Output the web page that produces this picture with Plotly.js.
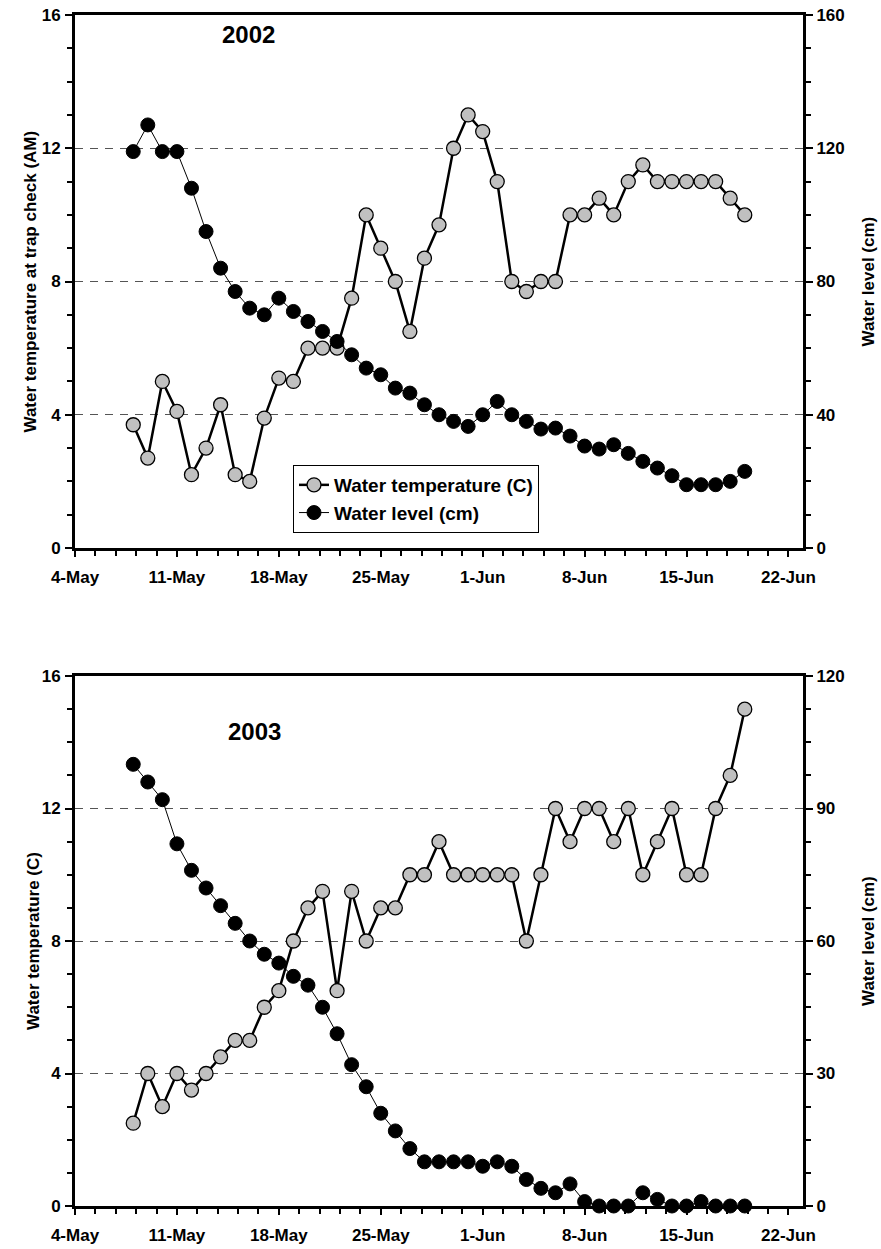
<!DOCTYPE html>
<html>
<head>
<meta charset="utf-8">
<script src="https://cdn.plot.ly/plotly-3.0.1.min.js"></script>
<style>
  html, body { margin: 0; padding: 0; background: #ffffff; }
  #chart { width: 881px; height: 1249px; }
</style>
</head>
<body>
<div id="chart"></div>
<script>
// Daily trap-check dates (8 May - 19 June) for each season
const dates2002 = [
  '2002-05-08','2002-05-09','2002-05-10','2002-05-11','2002-05-12','2002-05-13','2002-05-14',
  '2002-05-15','2002-05-16','2002-05-17','2002-05-18','2002-05-19','2002-05-20','2002-05-21',
  '2002-05-22','2002-05-23','2002-05-24','2002-05-25','2002-05-26','2002-05-27','2002-05-28',
  '2002-05-29','2002-05-30','2002-05-31','2002-06-01','2002-06-02','2002-06-03','2002-06-04',
  '2002-06-05','2002-06-06','2002-06-07','2002-06-08','2002-06-09','2002-06-10','2002-06-11',
  '2002-06-12','2002-06-13','2002-06-14','2002-06-15','2002-06-16','2002-06-17','2002-06-18',
  '2002-06-19'
];
const dates2003 = [
  '2003-05-08','2003-05-09','2003-05-10','2003-05-11','2003-05-12','2003-05-13','2003-05-14',
  '2003-05-15','2003-05-16','2003-05-17','2003-05-18','2003-05-19','2003-05-20','2003-05-21',
  '2003-05-22','2003-05-23','2003-05-24','2003-05-25','2003-05-26','2003-05-27','2003-05-28',
  '2003-05-29','2003-05-30','2003-05-31','2003-06-01','2003-06-02','2003-06-03','2003-06-04',
  '2003-06-05','2003-06-06','2003-06-07','2003-06-08','2003-06-09','2003-06-10','2003-06-11',
  '2003-06-12','2003-06-13','2003-06-14','2003-06-15','2003-06-16','2003-06-17','2003-06-18',
  '2003-06-19'
];

// Water temperature at trap check (C)
const temp2002 = [
  3.7, 2.7, 5.0, 4.1, 2.2, 3.0, 4.3, 2.2, 2.0, 3.9, 5.1, 5.0, 6.0, 6.0,
  6.0, 7.5, 10.0, 9.0, 8.0, 6.5, 8.7, 9.7, 12.0, 13.0, 12.5, 11.0, 8.0, 7.7,
  8.0, 8.0, 10.0, 10.0, 10.5, 10.0, 11.0, 11.5, 11.0, 11.0, 11.0, 11.0, 11.0, 10.5,
  10.0
];
const temp2003 = [
  2.5, 4.0, 3.0, 4.0, 3.5, 4.0, 4.5, 5.0, 5.0, 6.0, 6.5, 8.0, 9.0, 9.5,
  6.5, 9.5, 8.0, 9.0, 9.0, 10.0, 10.0, 11.0, 10.0, 10.0, 10.0, 10.0, 10.0, 8.0,
  10.0, 12.0, 11.0, 12.0, 12.0, 11.0, 12.0, 10.0, 11.0, 12.0, 10.0, 10.0, 12.0, 13.0,
  15.0
];

// Water level (cm)
const level2002 = [
  119, 127, 119, 119, 108, 95, 84, 77, 72, 70, 75, 71, 68, 65,
  62, 58, 54, 52, 48, 46.5, 43, 40, 38, 36.5, 40, 44, 40, 38,
  35.7, 36, 33.6, 30.6, 29.7, 31, 28.4, 26, 24, 21.7, 19, 19, 19, 20,
  23
];
const level2003 = [
  100, 96, 92, 82, 76, 72, 68, 64, 60, 57, 55, 52, 50, 45,
  39, 32, 27, 21, 17, 13, 10, 10, 10, 10, 9, 10, 9, 6,
  4, 3, 5, 1, 0, 0, 0, 3, 1.5, 0, 0, 1, 0, 0,
  0
];

// Axis scales and labels
const tempTicks = [0, 4, 8, 12, 16];
const level2002Ticks = [0, 40, 80, 120, 160];
const level2003Ticks = [0, 30, 60, 90, 120];
const seriesNames = ['Water temperature (C)', 'Water level (cm)'];
const yearLabels = ['2002', '2003'];
const leftTitles = ['Water temperature at trap check (AM)', 'Water temperature (C)'];
const rightTitle = 'Water level (cm)';

const FONT = 'Liberation Sans, Arial, Helvetica, sans-serif';
const DAY = 86400000;

const W = 881, H = 1249;
const px = v => v / W;
const py = v => 1 - v / H;

const xDomain = [px(75), px(803)];
const topDomain = [py(548), py(15)];
const botDomain = [py(1206), py(676)];

function tempTrace(x, y, xa, ya, legend) {
  return {
    x: x, y: y, xaxis: xa, yaxis: ya,
    type: 'scatter', mode: 'lines+markers',
    name: seriesNames[0], showlegend: legend, cliponaxis: false,
    line: { color: '#000000', width: 2.5 },
    marker: { symbol: 'circle', size: 14, color: '#c0c0c0', line: { color: '#000000', width: 1.3 } }
  };
}
function levelTrace(x, y, xa, ya, legend) {
  return {
    x: x, y: y, xaxis: xa, yaxis: ya,
    type: 'scatter', mode: 'lines+markers',
    name: seriesNames[1], showlegend: legend, cliponaxis: false,
    line: { color: '#000000', width: 1 },
    marker: { symbol: 'circle', size: 14, color: '#000000', line: { color: '#000000', width: 1 } }
  };
}

const data = [
  tempTrace(dates2002, temp2002, 'x', 'y', true),
  levelTrace(dates2002, level2002, 'x', 'y2', true),
  tempTrace(dates2003, temp2003, 'x2', 'y3', false),
  levelTrace(dates2003, level2003, 'x2', 'y4', false)
];

const tickFont = { family: FONT, size: 17, color: '#000000', weight: 'bold' };

function dateAxis(year, anchor) {
  return {
    type: 'date', domain: xDomain, anchor: anchor,
    range: [year + '-05-04', year + '-06-23'],
    tick0: year + '-05-04', dtick: 7 * DAY, tickformat: '%-d-%b',
    ticks: 'outside', ticklen: 6, tickwidth: 2, tickcolor: '#000000',
    minor: { tick0: year + '-05-04', dtick: 1.4 * DAY, ticks: 'outside', ticklen: 5, tickwidth: 2, tickcolor: '#000000', showgrid: false },
    showline: true, linecolor: '#000000', linewidth: 3, mirror: true,
    showgrid: false, zeroline: false, fixedrange: true,
    tickfont: tickFont, ticklabelstandoff: 6, layer: 'below traces'
  };
}
function tempAxis(domain, anchor) {
  return {
    domain: domain, anchor: anchor, range: [0, 16],
    tickvals: tempTicks, ticks: 'outside', ticklen: 7, tickwidth: 2, tickcolor: '#000000',
    minor: { dtick: 1, ticks: 'outside', ticklen: 5, tickwidth: 2, tickcolor: '#000000', showgrid: false },
    showline: true, linecolor: '#000000', linewidth: 3,
    showgrid: true, gridcolor: '#555555', gridwidth: 1, griddash: '8px,7px',
    zeroline: false, fixedrange: true,
    tickfont: tickFont, ticklabelstandoff: 1, layer: 'below traces'
  };
}
function levelAxis(overlay, anchor, ticks, minorStep) {
  return {
    overlaying: overlay, anchor: anchor, side: 'right',
    range: [ticks[0], ticks[ticks.length - 1]],
    tickvals: ticks, ticks: 'outside', ticklen: 7, tickwidth: 2, tickcolor: '#000000',
    minor: { dtick: minorStep, ticks: 'outside', ticklen: 5, tickwidth: 2, tickcolor: '#000000', showgrid: false },
    showline: true, linecolor: '#000000', linewidth: 3,
    showgrid: false, zeroline: false, fixedrange: true,
    tickfont: tickFont, ticklabelstandoff: 0, layer: 'below traces'
  };
}

const titleFont = { family: FONT, size: 17, color: '#000000', weight: 'bold' };
const topMid = (15 + 548) / 2;
const botMid = (676 + 1206) / 2;

const annotations = [
  { text: yearLabels[0], x: px(248), y: py(35), xref: 'paper', yref: 'paper', showarrow: false,
    xanchor: 'center', yanchor: 'middle', font: { family: FONT, size: 24, color: '#000000', weight: 'bold' } },
  { text: yearLabels[1], x: px(254), y: py(731), xref: 'paper', yref: 'paper', showarrow: false,
    xanchor: 'center', yanchor: 'middle', font: { family: FONT, size: 24, color: '#000000', weight: 'bold' } },
  { text: leftTitles[0], x: px(30), y: py(topMid), xref: 'paper', yref: 'paper', showarrow: false,
    textangle: -90, xanchor: 'center', yanchor: 'middle', font: titleFont },
  { text: leftTitles[1], x: px(33), y: py(botMid), xref: 'paper', yref: 'paper', showarrow: false,
    textangle: -90, xanchor: 'center', yanchor: 'middle', font: titleFont },
  { text: rightTitle, x: px(868), y: py(topMid), xref: 'paper', yref: 'paper', showarrow: false,
    textangle: -90, xanchor: 'center', yanchor: 'middle', font: titleFont },
  { text: rightTitle, x: px(868), y: py(botMid), xref: 'paper', yref: 'paper', showarrow: false,
    textangle: -90, xanchor: 'center', yanchor: 'middle', font: titleFont }
];

const layout = {
  width: W, height: H, autosize: false,
  margin: { l: 0, r: 0, t: 0, b: 0, pad: 0 },
  paper_bgcolor: '#ffffff', plot_bgcolor: '#ffffff',
  font: { family: FONT, color: '#000000' },
  xaxis: dateAxis('2002', 'y'),
  yaxis: tempAxis(topDomain, 'x'),
  yaxis2: levelAxis('y', 'x', level2002Ticks, 10),
  xaxis2: dateAxis('2003', 'y3'),
  yaxis3: tempAxis(botDomain, 'x2'),
  yaxis4: levelAxis('y3', 'x2', level2003Ticks, 7.5),
  showlegend: true,
  legend: {
    x: px(293), y: py(465), xanchor: 'left', yanchor: 'top',
    bgcolor: '#ffffff', bordercolor: '#000000', borderwidth: 1,
    font: { family: FONT, size: 19, color: '#000000', weight: 'bold' },
    tracegroupgap: 0, itemclick: false, itemdoubleclick: false
  },
  annotations: annotations
};

Plotly.newPlot('chart', data, layout, { staticPlot: true, displayModeBar: false });
</script>
</body>
</html>
